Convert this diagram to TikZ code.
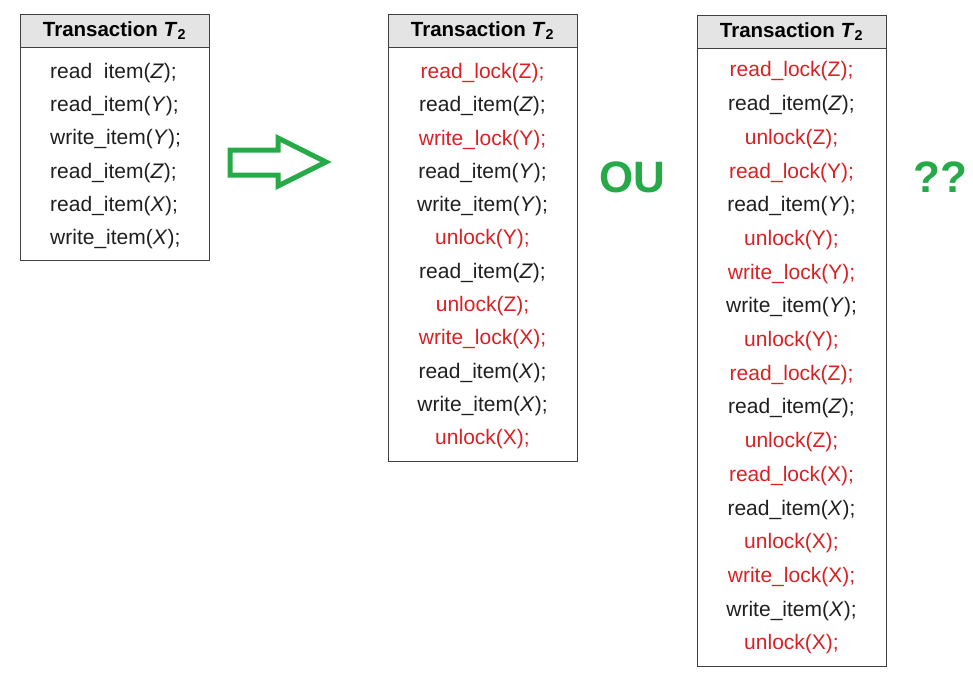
\documentclass[tikz,border=0pt]{standalone}
\usepackage{fontspec}
\setmainfont{Liberation Sans}
\usetikzlibrary{calc}
\definecolor{lockred}{RGB}{218,32,36}
\definecolor{okgreen}{RGB}{38,170,72}
\definecolor{headgray}{RGB}{228,228,228}
\newcommand{\V}[1]{\textit{#1}}
\tikzset{
	frame/.style={draw=black!75, line width=0.9pt},
	head/.style={draw=black!75, line width=0.9pt, fill=headgray, minimum width=189, minimum height=33, inner sep=0, font=\fontsize{20.5}{22}\selectfont\bfseries},
	op/.style={inner sep=0, text=black!88, font=\fontsize{21}{23}\selectfont},
	lk/.style={op, text=lockred},
	bigword/.style={inner sep=0, text=okgreen, font=\fontsize{44}{48}\selectfont\bfseries},
}
\begin{document}
\begin{tikzpicture}[x=1pt,y=-1pt]
			%%%%% START %%%%%
			\useasboundingbox (0,0) rectangle (973,673);
			
			% original schedule
			\draw[frame] (20,14) rectangle (209,260);
			\node[head] (hA) at (114.5,30.5) {Transaction \V{T}\textsubscript{2}};
			\foreach \s/\t [count=\i] in {op/{read\ \ item(\V{Z});}, op/{read\_item(\V{Y});}, op/{write\_item(\V{Y});},
				op/{read\_item(\V{Z});}, op/{read\_item(\V{X});}, op/{write\_item(\V{X});}}
				\node[\s, anchor=west] (a\i) at (50, 73+33.2*\i-33.2) {\t};
			
			\draw[line width=5pt, draw=okgreen, line join=miter] (230,150) -- (278,150) -- (278,138) -- (326,162) -- (278,186) -- (278,175) -- (230,175) -- cycle;
			
			% locks, two-phase
			\draw[frame] (388,14) rectangle (577,461);
			\node[head] (hB) at (482.5,30.5) {Transaction \V{T}\textsubscript{2}};
			\foreach \s/\t [count=\i] in {lk/{read\_lock(Z);}, op/{read\_item(\V{Z});}, lk/{write\_lock(Y);},
				op/{read\_item(\V{Y});}, op/{write\_item(\V{Y});}, lk/{unlock(Y);}, op/{read\_item(\V{Z});},
				lk/{unlock(Z);}, lk/{write\_lock(X);}, op/{read\_item(\V{X});}, op/{write\_item(\V{X});}, lk/{unlock(X);}}
				\node[\s] (b\i) at (482.5, 73+33.3*\i-33.3) {\t};
			
			\node[bigword] (ou) at (632,177) {OU};
			
			% locks, released at once
			\draw[frame] (697,15) rectangle (886,666);
			\node[head] (hC) at (791.5,31.5) {Transaction \V{T}\textsubscript{2}};
			\foreach \s/\t [count=\i] in {lk/{read\_lock(Z);}, op/{read\_item(\V{Z});}, lk/{unlock(Z);},
				lk/{read\_lock(Y);}, op/{read\_item(\V{Y});}, lk/{unlock(Y);}, lk/{write\_lock(Y);},
				op/{write\_item(\V{Y});}, lk/{unlock(Y);}, lk/{read\_lock(Z);}, op/{read\_item(\V{Z});},
				lk/{unlock(Z);}, lk/{read\_lock(X);}, op/{read\_item(\V{X});}, lk/{unlock(X);},
				lk/{write\_lock(X);}, op/{write\_item(\V{X});}, lk/{unlock(X);}}
				\node[\s] (c\i) at (791.5, 71.5+33.7*\i-33.7) {\t};
			
			\node[bigword] (qq) at (940,177) {??};
			%%%%% END %%%%%
\end{tikzpicture}
\end{document}
